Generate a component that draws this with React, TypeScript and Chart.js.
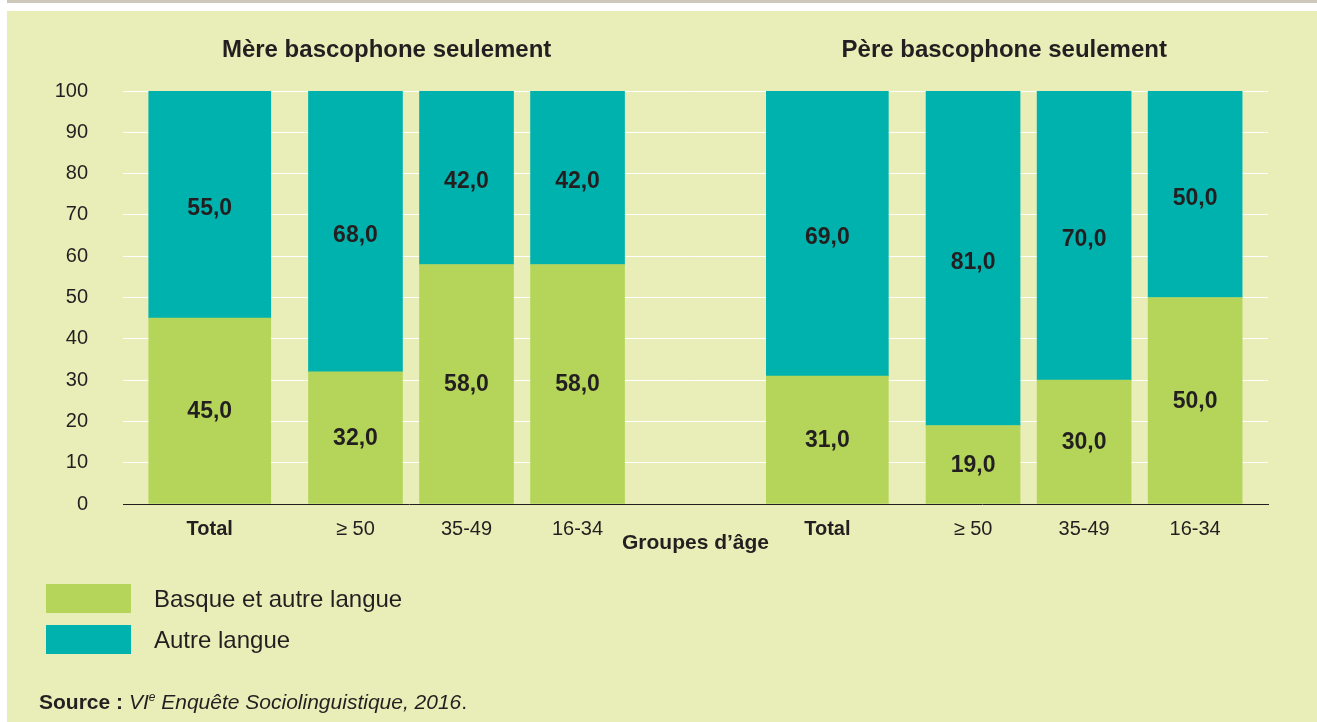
import React, { useEffect, useRef } from 'react';
import { Chart, registerables } from 'chart.js';

Chart.register(...registerables);

// ---------- data ----------
const groupTitles = ['Mère bascophone seulement', 'Père bascophone seulement'];
const ageGroups = ['Total', '≥ 50', '35-49', '16-34'];
const mereBasque = [45, 32, 58, 58];
const mereAutre = [55, 68, 42, 42];
const pereBasque = [31, 19, 30, 50];
const pereAutre = [69, 81, 70, 50];
const seriesNames = ['Basque et autre langue', 'Autre langue'];
const xAxisTitle = 'Groupes d’âge';
const yMin = 0;
const yMax = 100;
const yStep = 10;

// ---------- layout / style ----------
const SLOT_COUNT = 165;
const GROUP_SLOTS = [
  [12, 33, 49, 65],
  [101, 122, 138, 154],
];
const TOTAL_THICKNESS = 122;
const AGE_THICKNESS = 94;
const GREEN = '#b5d55a';
const TEAL = '#00b2ae';
const BG = '#e9eeb8';
const TEXT = '#231f20';
const FONT = "'Liberation Sans', Arial, Helvetica, sans-serif";

const fmt = (v: number) => v.toFixed(1).replace('.', ',');

const groupBasque = [mereBasque, pereBasque];
const groupAutre = [mereAutre, pereAutre];

function buildData() {
  const labels: string[] = new Array(SLOT_COUNT).fill('');
  const gTot: (number | null)[] = new Array(SLOT_COUNT).fill(null);
  const tTot: (number | null)[] = new Array(SLOT_COUNT).fill(null);
  const gAge: (number | null)[] = new Array(SLOT_COUNT).fill(null);
  const tAge: (number | null)[] = new Array(SLOT_COUNT).fill(null);
  GROUP_SLOTS.forEach((slots, g) => {
    slots.forEach((slot, i) => {
      labels[slot] = ageGroups[i];
      if (i === 0) {
        gTot[slot] = groupBasque[g][i];
        tTot[slot] = groupAutre[g][i];
      } else {
        gAge[slot] = groupBasque[g][i];
        tAge[slot] = groupAutre[g][i];
      }
    });
  });
  return {
    labels,
    datasets: [
      { label: seriesNames[0], data: gTot, backgroundColor: GREEN, barThickness: TOTAL_THICKNESS, stack: 's' },
      { label: seriesNames[1], data: tTot, backgroundColor: TEAL, barThickness: TOTAL_THICKNESS, stack: 's' },
      { label: seriesNames[0], data: gAge, backgroundColor: GREEN, barThickness: AGE_THICKNESS, stack: 's' },
      { label: seriesNames[1], data: tAge, backgroundColor: TEAL, barThickness: AGE_THICKNESS, stack: 's' },
    ],
  };
}

const labelPlugin = {
  id: 'segLabels',
  afterDatasetsDraw(chart: any) {
    const ctx = chart.ctx;
    ctx.save();
    ctx.fillStyle = TEXT;
    ctx.textAlign = 'center';
    ctx.textBaseline = 'middle';
    ctx.font = `bold 23px ${FONT}`;
    chart.data.datasets.forEach((ds: any, di: number) => {
      const meta = chart.getDatasetMeta(di);
      const dy = di % 2 === 1 ? 4 : 1;
      meta.data.forEach((el: any, i: number) => {
        const v = ds.data[i];
        if (v == null) return;
        const p = el.getProps(['x', 'y', 'base'], true);
        ctx.fillText(fmt(v), p.x, (p.y + p.base) / 2 + dy);
      });
    });
    // group titles centred over each group of bars
    const metaTot = chart.getDatasetMeta(0);
    const metaAge = chart.getDatasetMeta(2);
    ctx.font = `bold 24px ${FONT}`;
    ctx.textBaseline = 'alphabetic';
    GROUP_SLOTS.forEach((slots, g) => {
      const first = metaTot.data[slots[0]].getProps(['x', 'width'], true);
      const last = metaAge.data[slots[slots.length - 1]].getProps(['x', 'width'], true);
      const left = first.x - first.width / 2;
      const right = last.x + last.width / 2;
      ctx.fillText(groupTitles[g], (left + right) / 2, 57);
    });
    ctx.restore();
  },
};

export default function App() {
  const ref = useRef<HTMLCanvasElement | null>(null);

  useEffect(() => {
    if (!ref.current) return;
    const chart = new Chart(ref.current, {
      type: 'bar',
      data: buildData() as any,
      plugins: [labelPlugin],
      options: {
        animation: false,
        responsive: true,
        maintainAspectRatio: false,
        layout: { padding: { top: 91, right: 49, left: 0, bottom: 166 } },
        plugins: {
          legend: { display: false },
          tooltip: { enabled: false },
          title: { display: false },
        },
        scales: {
          x: {
            stacked: true,
            grid: { display: false },
            border: { display: true, color: TEXT, width: 1 },
            ticks: {
              autoSkip: false,
              maxRotation: 0,
              minRotation: 0,
              padding: 5,
              color: TEXT,
              font: (c: any) => ({
                family: FONT,
                size: 20,
                weight: c.tick && c.tick.label === 'Total' ? 'bold' : 'normal',
              }),
            },
            title: {
              display: true,
              text: xAxisTitle,
              color: TEXT,
              font: { family: FONT, size: 21, weight: 'bold' },
              padding: { top: 0, bottom: 0 },
            },
            afterFit: (s: any) => {
              s.height = 52;
            },
          },
          y: {
            stacked: true,
            min: yMin,
            max: yMax,
            grid: { color: '#ffffff', lineWidth: 1, drawTicks: false },
            border: { display: false },
            ticks: {
              stepSize: yStep,
              padding: 35,
              color: TEXT,
              font: { family: FONT, size: 20 },
            },
            afterFit: (s: any) => {
              s.width = 123;
            },
          },
        },
      } as any,
    });
    return () => chart.destroy();
  }, []);

  return (
    <div style={{ position: 'absolute', left: 0, top: 0, width: 1317, height: 722, background: '#ffffff', overflow: 'hidden', fontFamily: FONT, color: TEXT }}>
      <div style={{ position: 'absolute', left: 7, top: 0, width: 1310, height: 3, background: '#cdc8b9' }} />
      <div style={{ position: 'absolute', left: 7, top: 11, width: 1310, height: 711, background: BG }} />
      <div style={{ position: 'absolute', left: 0, top: 0, width: 1317, height: 722 }}>
        <canvas ref={ref} />
      </div>
      {/* legend */}
      {[GREEN, TEAL].map((c, i) => (
        <React.Fragment key={i}>
          <div style={{ position: 'absolute', left: 46, top: 584 + i * 41, width: 85, height: 29, background: c }} />
          <div style={{ position: 'absolute', left: 154, top: 584 + i * 41, height: 29, lineHeight: '29px', fontSize: 24, whiteSpace: 'nowrap' }}>
            {seriesNames[i]}
          </div>
        </React.Fragment>
      ))}
      {/* source */}
      <div style={{ position: 'absolute', left: 39, top: 689, fontSize: 21, lineHeight: '26px', whiteSpace: 'nowrap' }}>
        <b>Source :</b>{' '}
        <i>
          VI<sup style={{ fontSize: 12, verticalAlign: 'baseline', position: 'relative', top: -8 }}>e</sup> Enquête Sociolinguistique, 2016
        </i>
        .
      </div>
    </div>
  );
}
